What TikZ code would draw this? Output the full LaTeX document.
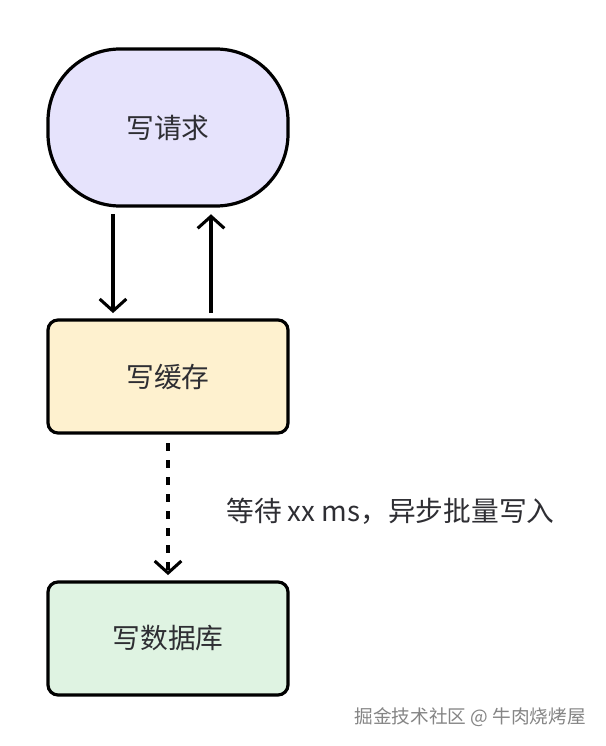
\documentclass[tikz,border=0pt]{standalone}
\usepackage{fontspec}
\setmainfont{Noto Sans CJK SC}
\usetikzlibrary{arrows.meta}
\definecolor{lav}{HTML}{E6E3FC}
\definecolor{yel}{HTML}{FEF1CF}
\definecolor{grn}{HTML}{DFF3E2}
\definecolor{txt}{HTML}{2E2E33}
\definecolor{wm}{HTML}{858585}
\tikzset{
  box/.style={draw=black, line width=2.4pt, rounded corners=7.5pt,
    minimum width=180pt, minimum height=84.75pt, text=txt,
    font=\fontsize{20.8}{24}\selectfont, inner sep=0pt},
  pill/.style={box, rounded corners=54pt, minimum height=117.75pt},
  conn/.style={line width=2.3pt, -{Straight Barb[length=9pt,width=20pt,line width=2.3pt]}},
  dashconn/.style={conn, dash pattern=on 5.5pt off 7.25pt},
  lbl/.style={text=txt, font=\fontsize{20.8}{24}\selectfont, inner sep=0pt},
  wmark/.style={text=wm, font=\fontsize{14}{16}\selectfont, inner sep=0pt}
}
\begin{document}
\begin{tikzpicture}[x=0.75pt,y=-0.75pt]
\useasboundingbox[fill=white] (0,0) rectangle (606,746);
\node[pill, fill=lav] (req) at (168,127.5) {写请求};
\node[box, fill=yel] (cache) at (168,376.5) {写缓存};
\node[box, fill=grn] (db) at (168,638.5) {写数据库};
\draw[conn, shorten <=5pt, shorten >=4pt] ([xshift=-41.25pt]req.south) -- ([xshift=-41.25pt]cache.north);
\draw[conn, shorten <=4pt, shorten >=5pt] ([xshift=32.25pt]cache.north) -- ([xshift=32.25pt]req.south);
\draw[dashconn, shorten <=6.5pt, shorten >=4pt] (cache.south) -- (db.north);
\node[lbl, anchor=west] (wait) at (226,511) {等待 xx ms，异步批量写入};
\node[wmark, anchor=east] (mark) at (586,717) {掘金技术社区 @ 牛肉烧烤屋};
\end{tikzpicture}
\end{document}
